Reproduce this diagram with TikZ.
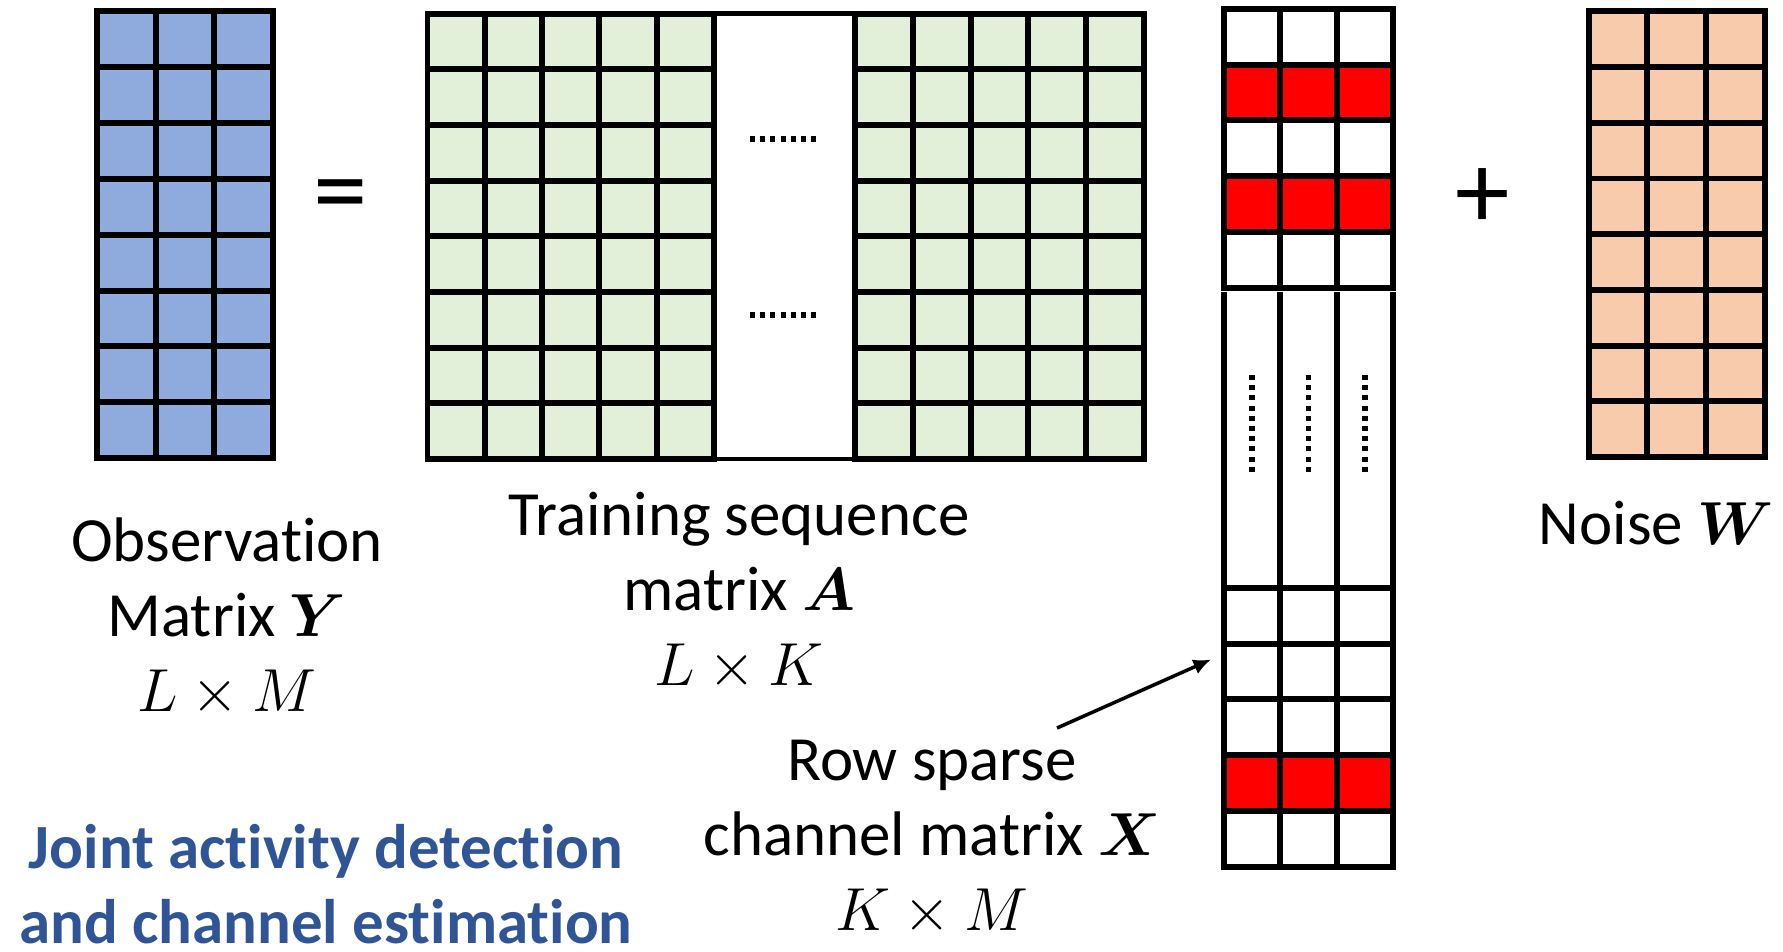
\documentclass[tikz,border=0pt]{standalone}
\usepackage{fontspec}
\setmainfont[Ligatures=NoCommon]{Carlito}
\usepackage{amsmath,bm}
\usetikzlibrary{arrows.meta, positioning}

\definecolor{obsblue}{HTML}{8FAADC}
\definecolor{seqgreen}{HTML}{E2F0D9}
\definecolor{noiseorange}{HTML}{F8CBAD}
\definecolor{titleblue}{HTML}{2F5597}

% block of cells: x0, y0, x1, y1, columns, rows, fill
\newcommand{\cellmatrix}[7]{%
  \filldraw[fill=#7, gridline] (#1,#2) rectangle (#3,#4);
  \pgfmathtruncatemacro{\ncm}{#5-1}
  \pgfmathtruncatemacro{\nrm}{#6-1}
  \foreach \c in {1,...,\ncm}
    \draw[gridline] ({#1+\c*(#3-#1)/#5},#2) -- ({#1+\c*(#3-#1)/#5},#4);
  \foreach \r in {1,...,\nrm}
    \draw[gridline] (#1,{#2+\r*(#4-#2)/#6}) -- (#3,{#2+\r*(#4-#2)/#6});
}

\begin{document}
\begin{tikzpicture}[
  x=0.01cm, y=-0.01cm,
  gridline/.style={line width=1.7pt, draw=black},
  thinline/.style={line width=1.2pt, draw=black},
  dotline/.style={line width=1.5pt, dash pattern=on 1.4pt off 1.5pt},
  lbl/.style={align=center, inner sep=0pt, font=\fontsize{17.9}{21.3}\selectfont},
  title/.style={align=center, inner sep=0pt, text=titleblue,
    font=\fontsize{17.9}{21.3}\selectfont\bfseries},
  op/.style={inner sep=0pt, font=\fontsize{31}{31}\selectfont},
  arr/.style={-{Latex[length=5pt, width=4.5pt]}, line width=1pt}
]
  \useasboundingbox (0,0) rectangle (1783,951);

  % observation Y
  \cellmatrix{97}{11.4}{273}{458}{3}{8}{obsblue}

  \node[op] (eq) at (341,203) {=};

  % training sequence A
  \draw[thinline] (714,13.6) -- (855,13.6);
  \draw[thinline] (714,459) -- (855,459);
  \cellmatrix{427.5}{13.6}{714}{459}{5}{8}{seqgreen}
  \cellmatrix{855}{13.6}{1144}{459}{5}{8}{seqgreen}
  \draw[dotline] (750,139) -- (819,139);
  \draw[dotline] (750,315) -- (819,315);

  % row sparse X
  \fill[red] (1223.5,64.7) rectangle (1393,120.4);
  \fill[red] (1223.5,176.1) rectangle (1393,231.8);
  \cellmatrix{1223.5}{9}{1393}{287.7}{3}{5}{none}
  \foreach \xx in {1223.5,1280,1336.5,1393}
    \draw[gridline] (\xx,292) -- (\xx,585);
  \foreach \xx in {1252,1308.5,1365}
    \draw[dotline] (\xx,375) -- (\xx,475);
  \fill[red] (1223.5,755.1) rectangle (1393,810.8);
  \cellmatrix{1223.5}{588}{1393}{866.5}{3}{5}{none}

  \node[op] (plus) at (1483,199) {+};

  % noise W
  \cellmatrix{1588.5}{11.4}{1764.7}{457}{3}{8}{noiseorange}

  % labels
  \node[lbl] (lblY) at (227,617) {Observation\\Matrix $\bm{Y}$\\$L\times M$};
  \node[lbl] (lblA) at (739,591) {Training sequence\\matrix $\bm{A}$\\$L\times K$};
  \node[lbl] (lblX) at (932,838) {Row sparse\\channel matrix $\bm{X}$\\$K\times M$};
  \node[lbl] (lblW) at (1656,523) {Noise $\bm{W}$};
  \node[title] (goal) at (326,884) {Joint activity detection\\and channel estimation};

  \coordinate (tail) at (1057,728);
  \coordinate (xrow) at (1211,659.5);
  \draw[arr] (tail) -- (xrow);
\end{tikzpicture}
\end{document}
